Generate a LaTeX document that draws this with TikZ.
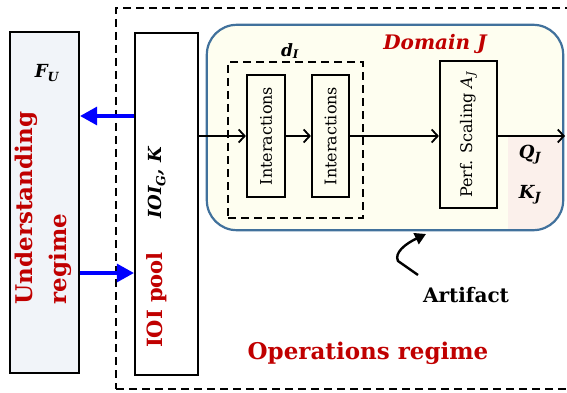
\documentclass[tikz,border=0pt]{standalone}
\usepackage{fontspec}
\setmainfont{DejaVu Serif}
\usetikzlibrary{arrows.meta}
\definecolor{regred}{HTML}{C00000}
\definecolor{domblue}{HTML}{41719C}
\definecolor{domfill}{HTML}{FEFEF0}
\definecolor{pinkfill}{HTML}{FBF0EB}
\definecolor{ufill}{HTML}{F1F4F9}
\definecolor{arrblue}{HTML}{0000FF}
\tikzset{
  blk/.style={draw=black, line width=2.2pt, inner sep=0pt},
  dbox/.style={draw=black, line width=2.2pt, dash pattern=on 8pt off 5pt, inner sep=0pt},
  arr/.style={line width=1.8pt, -{Straight Barb[length=6pt,width=13pt,line width=1.8pt]}},
  bluearr/.style={draw=arrblue, line width=3.2pt, -{Triangle[length=17pt,width=18pt]}},
  redlbl/.style={text=regred, font=\bfseries\fontsize{23}{34}\selectfont, inner sep=0pt},
  bilbl/.style={font=\bfseries\itshape\fontsize{18}{20}\selectfont, inner sep=0pt},
  vtext/.style={rotate=90, font=\fontsize{16}{18}\selectfont, inner sep=0pt},
}
\begin{document}
\begin{tikzpicture}[x=1pt,y=-1pt]
\useasboundingbox (0,0) rectangle (567,393);
\clip (0,0) rectangle (567,393);
% outer operations regime dashed box
\node[dbox, minimum width=480pt, minimum height=381pt] (ops) at (356,198.5) {};
% understanding regime box
\node[blk, fill=ufill, minimum width=69pt, minimum height=341pt] (und) at (44.5,202.5) {};
\node[bilbl] (fu) at (47,73) {F\textsubscript{U}};
\node[redlbl, rotate=90, align=left] (undtxt) at (43,208) {Understanding\\regime};
% IOI pool
\node[blk, fill=white, minimum width=63pt, minimum height=342pt] (ioi) at (166.5,204) {};
\node[bilbl, rotate=90] (ioigk) at (157,183) {IOI\textsubscript{G}, K};
\node[redlbl, rotate=90, font=\bfseries\fontsize{21}{24}\selectfont] (ioipool) at (157,300) {IOI pool};
% domain J
\node[fill=domfill, rounded corners=30pt, minimum width=356pt, minimum height=205pt, inner sep=0pt] (dom) at (385,127.5) {};
\begin{scope}
  \clip[rounded corners=30pt] (dom.north west) rectangle (dom.south east);
  \fill[pinkfill] (508,137) rectangle (570,235);
\end{scope}
\draw[domblue, line width=2.2pt, rounded corners=30pt] (dom.north west) rectangle (dom.south east);
\node[text=regred, font=\bfseries\itshape\fontsize{20}{22}\selectfont, inner sep=0pt] (domlbl) at (435,44) {Domain J};
% d_I dashed box
\node[dbox, minimum width=135pt, minimum height=156pt] (dI) at (295.5,140) {};
\node[bilbl, font=\bfseries\itshape\fontsize{17}{19}\selectfont] (dIlbl) at (290,51) {d\textsubscript{I}};
\node[blk, minimum width=38pt, minimum height=122pt] (int1) at (266,136) {};
\node[vtext] (int1t) at (int1) {Interactions};
\node[blk, minimum width=37pt, minimum height=122pt] (int2) at (330.5,136) {};
\node[vtext] (int2t) at (int2) {Interactions};
\node[blk, minimum width=57pt, minimum height=147pt] (perf) at (468.5,134.5) {};
\node[vtext] (perft) at (perf) {Perf. Scaling \textit{A}\textsubscript{\textit{J}}};
\node[bilbl] (qj) at (530,155) {Q\textsubscript{J}};
\node[bilbl] (kj) at (530,195) {K\textsubscript{J}};
% connectors
\coordinate (out) at (565,136);
\draw[arr] (ioi.east |- int1) -- (int1.west);
\draw[arr] (int1.east) -- (int2.west);
\draw[arr] (int2.east) -- (perf.west |- int2.east);
\draw[arr] (perf.east |- out) -- (out);
\coordinate (u1) at (0,116);
\coordinate (u2) at (0,273);
\draw[bluearr] (ioi.west |- u1) -- (und.east |- u1);
\draw[bluearr] (und.east |- u2) -- (ioi.west |- u2);
% artifact
\node[font=\bfseries\fontsize{20}{22}\selectfont, inner sep=0pt] (art) at (466,295) {Artifact};
\coordinate (a0) at (418,275);
\coordinate (a1) at (398,261);
\coordinate (a2) at (426,234);
\draw[line width=2.4pt, -{Triangle[length=11pt,width=12pt]}] (a0) -- (a1) .. controls (394,253) and (405,244) .. (a2);
\node[redlbl] (opslbl) at (368,353) {Operations regime};
\end{tikzpicture}
\end{document}
